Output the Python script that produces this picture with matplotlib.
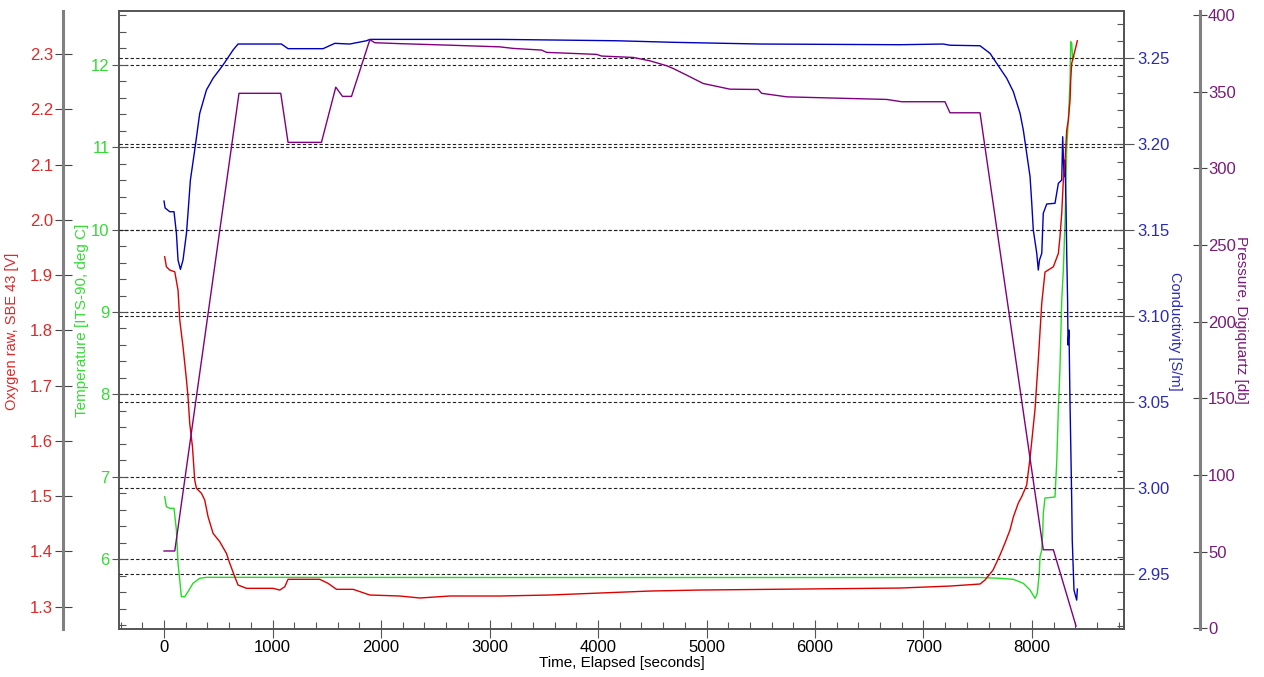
import matplotlib
matplotlib.use("Agg")
import matplotlib.pyplot as plt
from matplotlib.ticker import MultipleLocator, FormatStrFormatter
from matplotlib import rcParams

rcParams['font.family'] = ['Liberation Sans', 'DejaVu Sans']
rcParams['font.size'] = 12

# ---- data ----
press_t = [0, 99, 691, 1076, 1143, 1451, 1583, 1645, 1728, 1897, 1943, 2173, 2634,
           3095, 3218, 3480, 3526, 3987, 4033, 4324, 4478, 4632, 4693, 4816, 4970,
           5216, 5477, 5508, 5739, 6661, 6799, 7198, 7244, 7521, 8104, 8197, 8406]
press_v = [50.4, 50.4, 349, 349, 317, 317, 353, 347, 347, 384, 382, 381.4, 380.4,
           379.3, 378.3, 377.2, 375.7, 374.4, 373.3, 372.4, 370.2, 367, 365.2, 360.9, 355.4,
           351.7, 351.5, 349.0, 346.7, 345, 343.5, 343.5, 336.3, 336.3, 51.2, 51.2, 1.4]

cond_t = [0, 10, 53, 92, 114, 129, 151, 175, 207, 221, 243, 283, 329, 391, 452, 544,
          636, 682, 1082, 1143, 1466, 1574, 1712, 1866, 1897, 3095, 4171, 4693, 5492,
          6783, 7182, 7244, 7521, 7613, 7705, 7767, 7828, 7890, 7920, 7951, 7982, 7997,
          8012, 8044, 8058, 8069, 8090, 8104, 8136, 8212, 8243, 8274, 8283, 8295, 8304,
          8314, 8320, 8328, 8332, 8341, 8350, 8366, 8371, 8387, 8412, 8418]
cond_v = [3.1670, 3.1630, 3.1608, 3.1608, 3.1484, 3.1327, 3.1273, 3.1327, 3.1484, 3.1600,
          3.1792, 3.1967, 3.2180, 3.2316, 3.2384, 3.2461, 3.2548, 3.2583, 3.2583, 3.2556,
          3.2556, 3.2587, 3.2583, 3.2602, 3.2610, 3.2610, 3.2602, 3.2593, 3.2583, 3.2579,
          3.2583, 3.2576, 3.2573, 3.2529, 3.2442, 3.2384, 3.2306, 3.2180, 3.2083, 3.1948,
          3.1812, 3.1666, 3.1502, 3.1366, 3.1269, 3.1327, 3.1366, 3.1599, 3.1653, 3.1657,
          3.1773, 3.1792, 3.2044, 3.1812, 3.1909, 3.1637, 3.1366, 3.1095, 3.0833, 3.0920,
          3.0513, 2.9932, 2.9699, 2.9408, 2.9350, 2.9414]

oxy_t = [6, 22, 53, 99, 129, 145, 175, 207, 221, 237, 262, 283, 299, 345, 375, 406, 452,
         514, 575, 606, 652, 682, 760, 1005, 1067, 1113, 1143, 1436, 1512, 1590, 1743,
         1897, 2173, 2358, 2634, 3095, 3556, 4017, 4478, 4939, 5861, 6783, 7244, 7521,
         7567, 7641, 7705, 7751, 7797, 7828, 7874, 7908, 7951, 7982, 8028, 8058, 8090,
         8120, 8197, 8243, 8258, 8274, 8289, 8305, 8320, 8335, 8351, 8357, 8366, 8397, 8418]
oxy_v = [1.9333, 1.9152, 1.9092, 1.9061, 1.8730, 1.8187, 1.7704, 1.7102, 1.6800, 1.6318,
         1.5895, 1.5292, 1.5142, 1.5052, 1.4931, 1.4628, 1.4328, 1.4176, 1.3966, 1.3785,
         1.3543, 1.3393, 1.3333, 1.3333, 1.3302, 1.3362, 1.3496, 1.3496, 1.3423, 1.3315,
         1.3315, 1.3212, 1.3194, 1.3158, 1.3194, 1.3194, 1.3212, 1.3248, 1.3284, 1.3302,
         1.3320, 1.3338, 1.3374, 1.3411, 1.3483, 1.3664, 1.3935, 1.4153, 1.4388, 1.4623,
         1.4876, 1.5003, 1.5202, 1.5690, 1.6577, 1.7463, 1.8495, 1.9056, 1.9152, 1.9394,
         1.9694, 2.0118, 2.0720, 2.1082, 2.1625, 2.1806, 2.2168, 2.2530, 2.2832, 2.3072, 2.3241]

temp_t = [6, 22, 53, 92, 114, 129, 145, 160, 191, 221, 267, 329, 391, 3095, 7521, 7705,
          7828, 7920, 7982, 8028, 8049, 8067, 8074, 8090, 8099, 8104, 8120, 8212, 8228,
          8243, 8258, 8274, 8289, 8305, 8320, 8335, 8351, 8357, 8366, 8375, 8387]
temp_v = [6.7585, 6.6371, 6.6177, 6.6177, 6.3544, 5.9502, 5.7476, 5.5449, 5.5449, 5.6056,
          5.7075, 5.7682, 5.7803, 5.7779, 5.7779, 5.7682, 5.7561, 5.7075, 5.6262, 5.5255,
          5.5862, 5.8289, 6.0303, 6.1117, 6.3143, 6.5570, 6.7427, 6.7549, 7.1796, 7.8228,
          8.3204, 9.1456, 9.5097, 10.1165, 11.0061, 11.3301, 11.8155, 12.2803, 12.2609,
          12.0583, 12.0983]

# ---- styling ----
C_OXY, T_OXY = '#dd0000', '#e02828'
C_TMP, T_TMP = '#22dd22', '#33dd33'
C_CON, T_CON = '#0000c0', '#2a2ab8'
C_PRS, T_PRS = '#800080', '#7a1a7a'
FRAME = '#555555'
AXGRAY = '#808080'


def px(v):
    # pixels -> points at 100 dpi
    return v * 72.0 / 100.0


fig = plt.figure(figsize=(12.64, 6.77), dpi=100)
ax_t = fig.add_axes([119 / 1264, 48 / 677, 1005 / 1264, 618 / 677])
ax_c = ax_t.twinx()
ax_o = ax_t.twinx()
ax_p = ax_t.twinx()

ax_t.set_xlim(-415, 8848)
ax_t.set_ylim(5.153, 12.653)
ax_c.set_ylim(2.9182, 3.2775)
ax_o.set_ylim(1.2597, 2.378)
ax_p.set_ylim(-0.5, 402.7)

# lines
ax_t.plot(temp_t, temp_v, color=C_TMP, lw=1.0)
ax_c.plot(cond_t, cond_v, color=C_CON, lw=1.0)
ax_o.plot(oxy_t, oxy_v, color=C_OXY, lw=1.0)
ax_p.plot(press_t, press_v, color=C_PRS, lw=1.0)

# grids (temperature + conductivity)
ax_t.yaxis.set_major_locator(MultipleLocator(1))
ax_t.yaxis.set_minor_locator(MultipleLocator(0.2))
ax_t.grid(axis='y', which='major', color='#222222', lw=0.8, ls=(0, (3, 2)))
ax_c.yaxis.set_major_locator(MultipleLocator(0.05))
ax_c.yaxis.set_minor_locator(MultipleLocator(0.01))
ax_c.yaxis.set_major_formatter(FormatStrFormatter('%.2f'))
ax_c.grid(axis='y', which='major', color='#222222', lw=0.8, ls=(0, (3, 2)))

# x axis
ax_t.xaxis.set_major_locator(MultipleLocator(1000))
ax_t.xaxis.set_minor_locator(MultipleLocator(200))
ax_t.tick_params(axis='x', which='major', direction='inout', length=px(18), width=0.8,
                 color=FRAME, pad=px(2), labelsize=12)
ax_t.tick_params(axis='x', which='minor', direction='in', length=px(7), width=0.8, color=FRAME)
ax_t.set_xlabel('Time, Elapsed [seconds]', fontsize=11)
ax_t.xaxis.set_label_coords(0.5, -0.043)

# temperature axis (main left)
ax_t.tick_params(axis='y', which='major', direction='inout', length=px(15), width=0.8,
                 color=FRAME, pad=px(2), labelsize=12, labelcolor=T_TMP)
ax_t.tick_params(axis='y', which='minor', direction='in', length=px(7), width=0.8, color=FRAME)
ax_t.set_ylabel('Temperature [ITS-90, deg C]', color=T_TMP, fontsize=11)
ax_t.yaxis.set_label_coords(-0.030, 0.5)

# conductivity axis (main right)
ax_c.tick_params(axis='y', which='major', direction='inout', length=px(20), width=0.8,
                 color=FRAME, pad=px(3), labelsize=12, labelcolor=T_CON)
ax_c.tick_params(axis='y', which='minor', direction='in', length=px(7), width=0.8, color=FRAME)
ax_c.set_ylabel('Conductivity [S/m]', color=T_CON, fontsize=10.5, rotation=270)
ax_c.yaxis.set_label_coords(1.0577, 0.482)

# oxygen axis (outer left)
ax_o.yaxis.tick_left()
ax_o.yaxis.set_label_position('left')
ax_o.spines['left'].set_position(('axes', -0.056))
ax_o.yaxis.set_major_locator(MultipleLocator(0.1))
ax_o.yaxis.set_major_formatter(FormatStrFormatter('%.1f'))
ax_o.tick_params(axis='y', which='major', direction='inout', length=px(17), width=0.8,
                 color='#444444', pad=px(1), labelsize=12, labelcolor=T_OXY)
ax_o.set_ylabel('Oxygen raw, SBE 43 [V]', color=T_OXY, fontsize=10.5)
ax_o.yaxis.set_label_coords(-0.0995, 0.482)

# pressure axis (outer right)
ax_p.spines['right'].set_position(('axes', 1.0756))
ax_p.yaxis.set_major_locator(MultipleLocator(50))
ax_p.tick_params(axis='y', which='major', direction='inout', length=px(14), width=0.8,
                 color='#444444', pad=px(1), labelsize=12, labelcolor=T_PRS)
ax_p.set_ylabel('Pressure, Digiquartz [db]', color=T_PRS, fontsize=11, rotation=270)
ax_p.yaxis.set_label_coords(1.1234, 0.5)

# spines
for sp in ax_t.spines.values():
    sp.set_color(FRAME)
    sp.set_linewidth(1.4)
for a in (ax_c, ax_o, ax_p):
    for name in ('top', 'bottom'):
        a.spines[name].set_visible(False)
ax_c.spines['left'].set_visible(False)
ax_c.spines['right'].set_color(FRAME)
ax_c.spines['right'].set_linewidth(1.4)
ax_o.spines['right'].set_visible(False)
ax_o.spines['left'].set_color(AXGRAY)
ax_o.spines['left'].set_linewidth(2.2)
ax_p.spines['left'].set_visible(False)
ax_p.spines['right'].set_color(AXGRAY)
ax_p.spines['right'].set_linewidth(2.2)

fig.savefig('out.png', dpi=100)
